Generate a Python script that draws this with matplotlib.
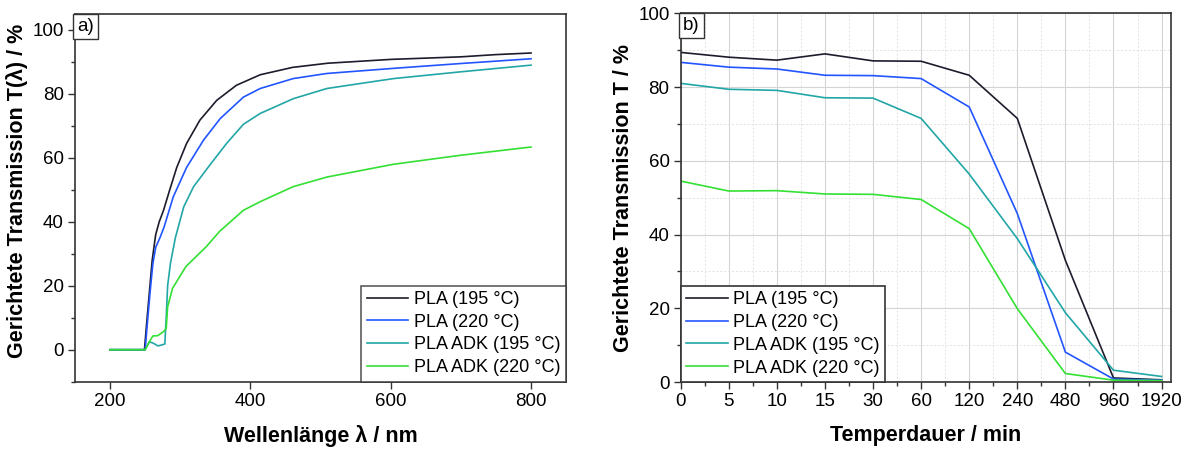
import matplotlib
matplotlib.use('Agg')
import matplotlib.pyplot as plt
from matplotlib.ticker import MultipleLocator

plt.rcParams['font.family'] = ['Liberation Sans', 'DejaVu Sans']

# --- Panel a): spectra (read off the picture) ---
wl_black = [200, 249, 252, 256, 260, 265, 270, 276, 285, 295, 309, 328, 352, 380, 414, 460, 510, 600, 700, 750, 800]
t_black = [0, 0, 8, 18, 28, 36, 40, 43.5, 50, 57, 64.5, 71.8, 78, 82.7, 86, 88.3, 89.6, 90.8, 91.6, 92.3, 92.8]

wl_blue = [200, 250, 253, 257, 261, 265, 271, 277, 290, 309, 333, 357, 390, 414, 461, 509, 604, 699, 800]
t_blue = [0, 0, 8, 18, 27, 32, 35, 38.4, 47.8, 57, 65.5, 72.3, 79, 81.7, 84.8, 86.4, 88, 89.5, 91]

wl_teal = [200, 250, 256, 262, 268, 274, 278, 280, 282, 286, 293, 305, 319, 343, 366, 390, 414, 461, 509, 604, 699, 800]
t_teal = [0, 0, 2.5, 2.0, 1.2, 1.5, 1.8, 10, 20, 27, 35, 44.7, 51, 58, 64.5, 70.5, 73.9, 78.5, 81.7, 84.8, 86.9, 89]

wl_green = [200, 250, 256, 261, 268, 277, 280, 282, 289, 308, 337, 356, 390, 414, 461, 509, 604, 699, 800]
t_green = [0, 0, 2.5, 4.3, 4.4, 5.8, 6.7, 13.4, 19.2, 26, 32.2, 37, 43.6, 46.3, 51, 54, 58, 60.8, 63.4]

# --- Panel b): transmission vs. annealing time ---
dauer_labels = ['0', '5', '10', '15', '30', '60', '120', '240', '480', '960', '1920']
b_pla195 = [89.4, 88.1, 87.3, 89.0, 87.1, 87.0, 83.2, 71.5, 33.0, 1.1, 0.6]
b_pla220 = [86.7, 85.4, 84.9, 83.2, 83.1, 82.3, 74.6, 45.7, 8.1, 0.8, 0.5]
b_adk195 = [81.0, 79.4, 79.1, 77.1, 77.0, 71.5, 56.4, 38.9, 18.8, 3.2, 1.5]
b_adk220 = [54.5, 51.8, 51.9, 51.0, 50.9, 49.5, 41.6, 19.9, 2.3, 0.5, 0.4]

names = ['PLA (195 °C)', 'PLA (220 °C)', 'PLA ADK (195 °C)', 'PLA ADK (220 °C)']
colors = ['#1c1c2c', '#2255ff', '#22a6a6', '#33e033']

spine_col = '#333333'
lw = 1.2

fig = plt.figure(figsize=(11.89, 4.5), dpi=100)
ax1 = fig.add_axes([0.0631, 0.1518, 0.4130, 0.8171])
ax2 = fig.add_axes([0.5725, 0.1511, 0.4121, 0.8193])


def style_axes(ax):
    for side in ['top', 'right', 'left', 'bottom']:
        ax.spines[side].set_color(spine_col)
        ax.spines[side].set_linewidth(1.2)
    ax.tick_params(which='both', direction='out', top=False, right=False,
                   color=spine_col, width=1.0, labelsize=13.5, pad=3)
    ax.tick_params(which='major', length=5)
    ax.tick_params(which='minor', length=3)


# Plot a)
ax1.plot(wl_black, t_black, color=colors[0], lw=lw, label=names[0])
ax1.plot(wl_blue, t_blue, color=colors[1], lw=lw, label=names[1])
ax1.plot(wl_teal, t_teal, color=colors[2], lw=lw, label=names[2])
ax1.plot(wl_green, t_green, color=colors[3], lw=lw, label=names[3])
ax1.set_xlim(150, 850)
ax1.set_ylim(-10, 105)
ax1.set_xticks([200, 400, 600, 800])
ax1.set_yticks([0, 20, 40, 60, 80, 100])
ax1.yaxis.set_minor_locator(MultipleLocator(10))
style_axes(ax1)
ax1.set_xlabel('Wellenlänge λ / nm', fontsize=15.5, fontweight='bold', labelpad=11)
ax1.set_ylabel('Gerichtete Transmission T(λ) / %', fontsize=15.5, fontweight='bold')
ax1.yaxis.set_label_coords(-0.095, 0.52)
ax1.text(0.005, 0.99, 'a)', transform=ax1.transAxes, fontsize=13.5, ha='left', va='top',
         bbox=dict(boxstyle='square,pad=0.22', fc='white', ec=spine_col, lw=1.0))
leg1 = ax1.legend(loc='lower right', bbox_to_anchor=(1.0, 0.0), fontsize=13, frameon=True,
                  fancybox=False, edgecolor=spine_col, handlelength=2.3, handletextpad=0.32,
                  labelspacing=0.32, borderpad=0.3, borderaxespad=0.0)
leg1.get_frame().set_linewidth(1.2)

# Plot b)
pos = list(range(len(dauer_labels)))
ax2.plot(pos, b_pla195, color=colors[0], lw=lw, label=names[0])
ax2.plot(pos, b_pla220, color=colors[1], lw=lw, label=names[1])
ax2.plot(pos, b_adk195, color=colors[2], lw=lw, label=names[2])
ax2.plot(pos, b_adk220, color=colors[3], lw=lw, label=names[3])
ax2.set_xlim(0, 10.19)
ax2.set_ylim(0, 100)
ax2.set_xticks(pos)
ax2.set_xticklabels(dauer_labels)
ax2.xaxis.set_minor_locator(MultipleLocator(0.5))
ax2.set_yticks([0, 20, 40, 60, 80, 100])
ax2.yaxis.set_minor_locator(MultipleLocator(10))
ax2.grid(True, which='major', color='#d4d4d4', lw=0.8, ls='-')
ax2.grid(True, which='minor', color='#e2e2e2', lw=0.7, ls=(0, (2, 2)))
ax2.set_axisbelow(True)
style_axes(ax2)
ax2.set_xlabel('Temperdauer / min', fontsize=15.5, fontweight='bold', labelpad=11)
ax2.set_ylabel('Gerichtete Transmission T / %', fontsize=15.5, fontweight='bold')
ax2.yaxis.set_label_coords(-0.095, 0.5)
ax2.text(0.005, 0.99, 'b)', transform=ax2.transAxes, fontsize=13.5, ha='left', va='top',
         bbox=dict(boxstyle='square,pad=0.22', fc='white', ec=spine_col, lw=1.0))
leg2 = ax2.legend(loc='lower left', bbox_to_anchor=(0.0, 0.0), fontsize=13, frameon=True,
                  fancybox=False, edgecolor=spine_col, handlelength=2.3, handletextpad=0.32,
                  labelspacing=0.32, borderpad=0.3, borderaxespad=0.0, framealpha=1)
leg2.get_frame().set_linewidth(1.2)

fig.savefig('out.png', dpi=100)
